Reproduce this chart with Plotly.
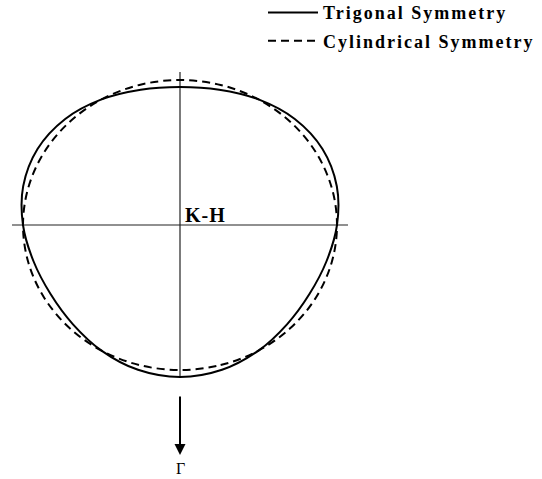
import numpy as np
import plotly.graph_objects as go

# Cross sections sampled every 15 degrees, angle measured from the Gamma direction (downwards)
angle_deg = [0, 15, 30, 45, 60, 75, 90, 105, 120, 135, 150, 165, 180,
             195, 210, 225, 240, 255, 270, 285, 300, 315, 330, 345, 360]
r_trigonal = [1.048, 1.034, 1.000, 0.966, 0.952, 0.966, 1.000, 1.034, 1.048,
              1.034, 1.000, 0.966, 0.952, 0.966, 1.000, 1.034, 1.048,
              1.034, 1.000, 0.966, 0.952, 0.966, 1.000, 1.034, 1.048]
r_cylindrical = [1.0, 1.0, 1.0, 1.0, 1.0, 1.0, 1.0, 1.0, 1.0, 1.0, 1.0, 1.0, 1.0,
                 1.0, 1.0, 1.0, 1.0, 1.0, 1.0, 1.0, 1.0, 1.0, 1.0, 1.0, 1.0]

series_names = ["Trigonal Symmetry", "Cylindrical Symmetry"]
center_label = "K-H"
arrow_label = "Γ"

# extents of the K-H guide lines and the Gamma arrow (data units, radius = 1)
H_EXTENT = 1.07
V_EXTENT = 1.055
ARROW_TAIL = -1.172
ARROW_HEAD = -1.586
GAMMA_Y = -1.68

SERIF = "Liberation Serif, Times New Roman, serif"


def to_xy(angles, radii):
    th = np.radians(angles)
    r = np.asarray(radii)
    return r * np.sin(th), -r * np.cos(th)


def spaced(text, px):
    return f'<span style="letter-spacing:{px}px">{text}</span>'


fig = go.Figure()

xt, yt = to_xy(angle_deg, r_trigonal)
xc, yc = to_xy(angle_deg, r_cylindrical)

fig.add_trace(go.Scatter(x=xt, y=yt, mode="lines", line_shape="spline",
                         line=dict(color="black", width=2), legendgroup="trig",
                         name=spaced(series_names[0], 2), hoverinfo="skip"))
fig.add_trace(go.Scatter(x=xc, y=yc, mode="lines", line_shape="spline",
                         line=dict(color="black", width=2, dash="8px,5px"),
                         legendgroup="cyl",
                         name=spaced(series_names[1], 2), hoverinfo="skip"))

# K-H guide lines through the centre
fig.add_shape(type="line", x0=-H_EXTENT, x1=H_EXTENT, y0=0, y1=0,
              line=dict(color="#222", width=1.2), layer="below")
fig.add_shape(type="line", x0=0, x1=0, y0=-V_EXTENT, y1=V_EXTENT,
              line=dict(color="#222", width=1.2), layer="below")

fig.add_annotation(x=0.018, y=-0.02, xanchor="left", yanchor="bottom",
                   text=spaced(center_label, 1), showarrow=False,
                   font=dict(family=SERIF, size=20, color="black", weight="bold"))

# arrow towards Gamma
fig.add_annotation(x=0, y=ARROW_HEAD, ax=0, ay=ARROW_TAIL, axref="x", ayref="y",
                   xref="x", yref="y", text="", showarrow=True,
                   arrowhead=2, arrowsize=1.1, arrowwidth=2, arrowcolor="black",
                   standoff=0, startstandoff=0)
fig.add_annotation(x=0, y=GAMMA_Y, text=arrow_label, showarrow=False,
                   font=dict(family=SERIF, size=16, color="black"))

fig.update_layout(
    width=542, height=479,
    margin=dict(l=0, r=0, t=0, b=0, autoexpand=False),
    paper_bgcolor="white", plot_bgcolor="white",
    xaxis=dict(range=[-1.1465, 2.3057], visible=False, fixedrange=True),
    yaxis=dict(range=[-1.7517, 1.5517], visible=False, fixedrange=True),
    showlegend=True,
    legend=dict(x=263 / 542, y=1.012, xanchor="left", yanchor="top",
                font=dict(family=SERIF, size=18, color="black", weight="bold"),
                itemwidth=50, bgcolor="rgba(0,0,0,0)", borderwidth=0,
                tracegroupgap=2),
)

fig.write_html("out.html")
